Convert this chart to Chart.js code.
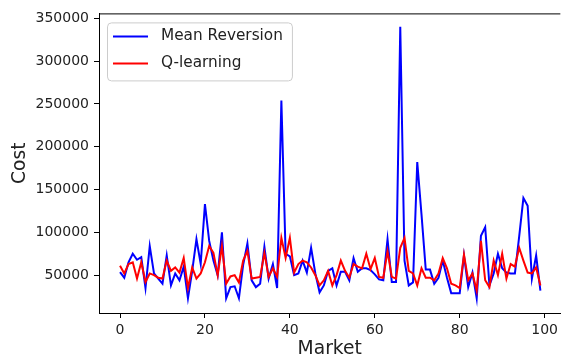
<!DOCTYPE html>
<html>
<head>
<meta charset="utf-8">
<script src="https://cdn.jsdelivr.net/npm/chart.js@4.4.1/dist/chart.umd.min.js"></script>
<style>
  html, body { margin: 0; padding: 0; background: #fff; }
  #wrap { width: 562px; height: 360px; }
</style>
</head>
<body>
<div id="wrap"><canvas id="costChart" width="562" height="360"></canvas></div>
<script>
// market index 0..99
const markets = Array.from({ length: 100 }, (_, i) => i);

const meanReversion = [
  53500, 47000, 65000, 75000, 68000, 71000, 35000, 84000, 52000, 46000,
  40000, 73000, 38000, 52000, 44000, 60000, 23000, 55000, 92000, 63000,
  133000, 90000, 67000, 50000, 100000, 23000, 36000, 37000, 23000, 62000,
  87000, 44000, 36000, 40000, 83000, 46000, 63000, 35000, 254000, 75000,
  72000, 50000, 52000, 67000, 53000, 82000, 52000, 30000, 38000, 55000,
  58000, 38000, 54000, 54000, 44000, 70000, 54000, 58000, 58000, 56000,
  51000, 45000, 44000, 92000, 42000, 42000, 340000, 67000, 38000, 41500,
  182000, 121000, 56500, 56500, 40000, 47000, 67000, 47000, 29000, 29000,
  29000, 73000, 36000, 53000, 23000, 96000, 106000, 38000, 52000, 75000,
  58000, 53000, 52000, 52000, 95000, 140000, 131000, 46000, 73000, 32000
];

const qLearning = [
  61000, 52000, 63000, 65000, 46000, 65000, 42000, 52000, 50000, 47000,
  46000, 67000, 55000, 59000, 53000, 70000, 35000, 59000, 46000, 52000,
  65000, 84000, 76000, 50000, 84000, 40000, 48500, 50000, 41500, 67000,
  78500, 46000, 47000, 48000, 76000, 48000, 58000, 48000, 93500, 70000,
  93500, 53000, 63000, 67000, 65000, 59000, 50000, 38000, 44000, 55000,
  38000, 50000, 67000, 55000, 47000, 63000, 60000, 58000, 75000, 57000,
  70000, 48000, 47000, 78000, 48000, 46000, 82000, 93500, 55000, 52000,
  38000, 58000, 47000, 47000, 44000, 52000, 70000, 58000, 40000, 38000,
  35000, 74000, 44000, 52000, 32000, 90000, 44000, 36000, 67000, 50000,
  75000, 46000, 63000, 60000, 82000, 67000, 53000, 52000, 59000, 38000
];

const xTickValues = [0, 20, 40, 60, 80, 100];
const yTickValues = [50000, 100000, 150000, 200000, 250000, 300000, 350000];

const FONT = '"DejaVu Sans", sans-serif';

function toPoints(values) {
  return values.map((v, i) => ({ x: markets[i], y: v }));
}

// top spine (matplotlib draws a box round the axes)
const frame = {
  id: "frame",
  afterDatasetsDraw(chart) {
    const { ctx, chartArea } = chart;
    ctx.save();
    ctx.strokeStyle = "#000";
    ctx.lineWidth = 1;
    ctx.beginPath();
    ctx.moveTo(chartArea.left, chartArea.top + 0.5);
    ctx.lineTo(chartArea.right, chartArea.top + 0.5);
    ctx.stroke();
    ctx.restore();
  },
};

// legend box in the upper left corner of the axes
const insideLegend = {
  id: "insideLegend",
  afterDraw(chart) {
    const { ctx, chartArea } = chart;
    const sets = chart.data.datasets;
    ctx.save();
    ctx.font = "15.3px " + FONT;
    const textW = Math.max(...sets.map((d) => ctx.measureText(d.label).width));
    const x = chartArea.left + 8;
    const y = chartArea.top + 9;
    const w = 6 + 35 + 13 + textW + 9;
    const h = 58;
    ctx.beginPath();
    ctx.roundRect(x + 0.5, y + 0.5, w, h, 4);
    ctx.fillStyle = "rgba(255,255,255,0.8)";
    ctx.fill();
    ctx.strokeStyle = "#cccccc";
    ctx.lineWidth = 1;
    ctx.stroke();
    sets.forEach((d, i) => {
      const cy = y + 14 + i * 27;
      ctx.strokeStyle = d.borderColor;
      ctx.lineWidth = d.borderWidth;
      ctx.beginPath();
      ctx.moveTo(x + 6, cy);
      ctx.lineTo(x + 41, cy);
      ctx.stroke();
      ctx.fillStyle = "#222";
      ctx.textBaseline = "middle";
      ctx.textAlign = "left";
      ctx.fillText(d.label, x + 54, cy);
    });
    ctx.restore();
  },
};

new Chart(document.getElementById("costChart"), {
  type: "line",
  data: {
    datasets: [
      {
        label: "Mean Reversion",
        data: toPoints(meanReversion),
        borderColor: "#0000ff",
        borderWidth: 2,
        pointRadius: 0,
        tension: 0,
        order: 1,
      },
      {
        label: "Q-learning",
        data: toPoints(qLearning),
        borderColor: "#ff0000",
        borderWidth: 2,
        pointRadius: 0,
        tension: 0,
        order: 0,
      },
    ],
  },
  options: {
    responsive: false,
    animation: false,
    devicePixelRatio: 1,
    layout: { padding: { top: 10, right: 0, bottom: 0, left: 0 } },
    plugins: {
      legend: { display: false },
      tooltip: { enabled: false },
    },
    scales: {
      x: {
        type: "linear",
        min: -4.95,
        max: 103.7,
        afterBuildTicks: (scale) => {
          scale.ticks = xTickValues.map((v) => ({ value: v }));
        },
        afterFit: (scale) => {
          scale.height = 47;
        },
        grid: { drawOnChartArea: false, drawTicks: true, tickLength: 5, tickColor: "#000" },
        border: { display: true, color: "#000", width: 1 },
        ticks: { color: "#222", padding: 4, maxRotation: 0, font: { family: FONT, size: 14 } },
        title: {
          display: true,
          text: "Market",
          color: "#222",
          padding: { top: 0, bottom: 0 },
          font: { family: FONT, size: 18.7 },
        },
      },
      y: {
        min: 5800,
        max: 355700,
        afterBuildTicks: (scale) => {
          scale.ticks = yTickValues.map((v) => ({ value: v }));
        },
        afterFit: (scale) => {
          scale.width = 99;
        },
        grid: { drawOnChartArea: false, drawTicks: true, tickLength: 5, tickColor: "#000" },
        border: { display: true, color: "#000", width: 1 },
        ticks: {
          color: "#222",
          padding: 5,
          font: { family: FONT, size: 14 },
          callback: (v) => String(v),
        },
        title: {
          display: true,
          text: "Cost",
          color: "#222",
          padding: { top: 9, bottom: 0 },
          font: { family: FONT, size: 18.7 },
        },
      },
    },
  },
  plugins: [frame, insideLegend],
});
</script>
</body>
</html>
